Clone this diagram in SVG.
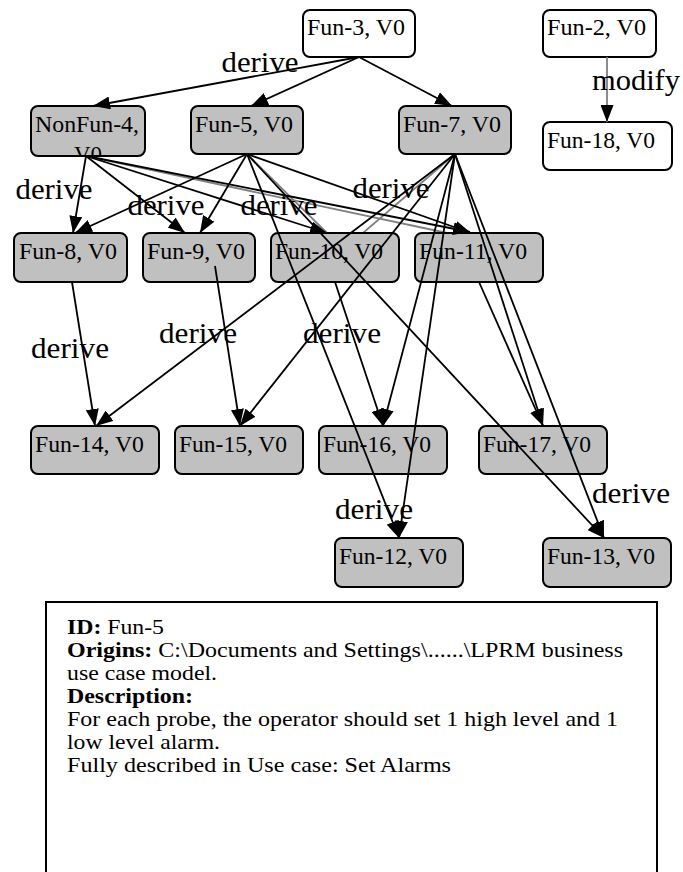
<svg xmlns="http://www.w3.org/2000/svg" width="683" height="872" viewBox="0 0 683 872">
  <defs>
    <marker id="arrow" markerUnits="userSpaceOnUse" markerWidth="17" markerHeight="13" viewBox="0 0 17 13" refX="17" refY="6.5" orient="auto">
      <path d="M0,0 L17,6.5 L0,13 z" fill="#000"/>
    </marker>
    <clipPath id="clip-nonfun4">
      <rect x="31" y="106" width="114" height="49"/>
    </clipPath>
  </defs>
  <style>
    .box { stroke: #000; stroke-width: 2; }
    .pale { fill: #fff; }
    .shaded { fill: #c0c0c0; }
    .name { font-family: "Liberation Serif", "Times New Roman", serif; font-size: 23px; fill: #000; }
    .edge { fill: none; stroke: #000; stroke-width: 1.8; marker-end: url(#arrow); }
    .soft { fill: none; stroke: #808080; stroke-width: 1.8; }
    .rel { font-family: "Liberation Serif", "Times New Roman", serif; font-size: 30px; fill: #000; text-anchor: middle; }
    .info { font-family: "Liberation Serif", "Times New Roman", serif; font-size: 22px; fill: #000; }
    .info .b { font-weight: bold; }
  </style>

  <rect width="683" height="872" fill="#fff"/>

  <!-- secondary relations, drawn beneath the nodes -->
  <g id="connectors-under">
    <line class="soft" x1="247" y1="154" x2="327" y2="233"/>
    <line class="soft" x1="455" y1="154" x2="335" y2="257"/>
    <line class="soft" x1="86" y1="156" x2="466" y2="237"/>
  </g>

  <g id="nodes">
    <g id="fun-3"><rect class="box pale" x="303" y="10" width="112" height="47" rx="7"/><text class="name" x="307" y="35" textLength="98" lengthAdjust="spacingAndGlyphs">Fun-3, V0</text></g>
    <g id="fun-2"><rect class="box pale" x="543" y="10" width="113" height="47" rx="7"/><text class="name" x="547" y="35" textLength="99" lengthAdjust="spacingAndGlyphs">Fun-2, V0</text></g>
    <g id="fun-18"><rect class="box pale" x="543" y="122" width="129" height="48" rx="7"/><text class="name" x="547" y="148" textLength="108" lengthAdjust="spacingAndGlyphs">Fun-18, V0</text></g>
    <g id="nonfun-4"><rect class="box shaded" x="31" y="106" width="114" height="50" rx="7"/>
      <g clip-path="url(#clip-nonfun4)"><text class="name" x="87" y="132" text-anchor="middle" textLength="104" lengthAdjust="spacingAndGlyphs">NonFun-4,</text><text class="name" x="88" y="162" text-anchor="middle">V0</text></g></g>
    <g id="fun-5"><rect class="box shaded" x="191" y="106" width="112" height="48" rx="7"/><text class="name" x="195" y="132" textLength="98" lengthAdjust="spacingAndGlyphs">Fun-5, V0</text></g>
    <g id="fun-7"><rect class="box shaded" x="399" y="106" width="112" height="48" rx="7"/><text class="name" x="403" y="132" textLength="98" lengthAdjust="spacingAndGlyphs">Fun-7, V0</text></g>
    <g id="fun-8"><rect class="box shaded" x="14" y="233" width="113" height="49" rx="7"/><text class="name" x="19" y="259" textLength="98" lengthAdjust="spacingAndGlyphs">Fun-8, V0</text></g>
    <g id="fun-9"><rect class="box shaded" x="143" y="233" width="112" height="49" rx="7"/><text class="name" x="147" y="259" textLength="98" lengthAdjust="spacingAndGlyphs">Fun-9, V0</text></g>
    <g id="fun-10"><rect class="box shaded" x="271" y="233" width="128" height="49" rx="7"/><text class="name" x="275" y="259" textLength="108" lengthAdjust="spacingAndGlyphs">Fun-10, V0</text></g>
    <g id="fun-11"><rect class="box shaded" x="415" y="233" width="128" height="49" rx="7"/><text class="name" x="419" y="259" textLength="108" lengthAdjust="spacingAndGlyphs">Fun-11, V0</text></g>
    <g id="fun-14"><rect class="box shaded" x="31" y="426" width="128" height="48" rx="7"/><text class="name" x="35" y="452" textLength="109" lengthAdjust="spacingAndGlyphs">Fun-14, V0</text></g>
    <g id="fun-15"><rect class="box shaded" x="175" y="426" width="128" height="48" rx="7"/><text class="name" x="179" y="452" textLength="108" lengthAdjust="spacingAndGlyphs">Fun-15, V0</text></g>
    <g id="fun-16"><rect class="box shaded" x="319" y="426" width="128" height="48" rx="7"/><text class="name" x="323" y="452" textLength="108" lengthAdjust="spacingAndGlyphs">Fun-16, V0</text></g>
    <g id="fun-17"><rect class="box shaded" x="479" y="426" width="128" height="48" rx="7"/><text class="name" x="483" y="452" textLength="108" lengthAdjust="spacingAndGlyphs">Fun-17, V0</text></g>
    <g id="fun-12"><rect class="box shaded" x="335" y="538" width="128" height="49" rx="7"/><text class="name" x="339" y="564" textLength="108" lengthAdjust="spacingAndGlyphs">Fun-12, V0</text></g>
    <g id="fun-13"><rect class="box shaded" x="543" y="538" width="128" height="49" rx="7"/><text class="name" x="547" y="564" textLength="108" lengthAdjust="spacingAndGlyphs">Fun-13, V0</text></g>
  </g>

  <g id="connectors">
    <!-- from Fun-3 -->
    <line class="edge" x1="359" y1="57" x2="93" y2="106"/>
    <line class="edge" x1="359" y1="57" x2="251" y2="106"/>
    <line class="edge" x1="359" y1="57" x2="452" y2="106"/>
    <!-- from NonFun-4 -->
    <line class="edge" x1="86" y1="156" x2="73" y2="233"/>
    <line class="edge" x1="86" y1="156" x2="185" y2="233"/>
    <line class="edge" x1="86" y1="156" x2="327" y2="233"/>
    <line class="edge" x1="86" y1="156" x2="470" y2="232"/>
    <!-- from Fun-5 -->
    <line class="edge" x1="247" y1="154" x2="75" y2="233"/>
    <line class="edge" x1="247" y1="154" x2="200" y2="233"/>
    <line class="edge" x1="247" y1="154" x2="471" y2="233"/>
    <line class="edge" x1="247" y1="154" x2="399" y2="538"/>
    <line class="edge" x1="247" y1="154" x2="604" y2="538"/>
    <!-- from Fun-7 -->
    <line class="edge" x1="455" y1="154" x2="96" y2="426"/>
    <line class="edge" x1="455" y1="154" x2="240" y2="426"/>
    <line class="edge" x1="455" y1="154" x2="383" y2="426"/>
    <line class="edge" x1="455" y1="154" x2="399" y2="538"/>
    <line class="edge" x1="455" y1="154" x2="543" y2="426"/>
    <line class="edge" x1="455" y1="154" x2="604" y2="538"/>
    <!-- second row to third row -->
    <line class="edge" x1="72" y1="282" x2="95" y2="426"/>
    <line class="edge" x1="215" y1="266" x2="240" y2="426"/>
    <line class="edge" x1="335" y1="282" x2="383" y2="426"/>
    <line class="edge" x1="479" y1="282" x2="543" y2="426"/>
    <!-- Fun-2 to Fun-18 -->
    <line class="soft" x1="607" y1="57" x2="607" y2="122" marker-end="url(#arrow)"/>

    <text class="rel" x="260" y="72" textLength="77" lengthAdjust="spacingAndGlyphs">derive</text>
    <text class="rel" x="636" y="90" textLength="88" lengthAdjust="spacingAndGlyphs">modify</text>
    <text class="rel" x="54" y="199" textLength="77" lengthAdjust="spacingAndGlyphs">derive</text>
    <text class="rel" x="166" y="215" textLength="77" lengthAdjust="spacingAndGlyphs">derive</text>
    <text class="rel" x="279" y="215" textLength="77" lengthAdjust="spacingAndGlyphs">derive</text>
    <text class="rel" x="391" y="198" textLength="77" lengthAdjust="spacingAndGlyphs">derive</text>
    <text class="rel" x="70" y="358" textLength="78" lengthAdjust="spacingAndGlyphs">derive</text>
    <text class="rel" x="198" y="343" textLength="78" lengthAdjust="spacingAndGlyphs">derive</text>
    <text class="rel" x="342" y="343" textLength="78" lengthAdjust="spacingAndGlyphs">derive</text>
    <text class="rel" x="374" y="519" textLength="78" lengthAdjust="spacingAndGlyphs">derive</text>
    <text class="rel" x="631" y="503" textLength="78" lengthAdjust="spacingAndGlyphs">derive</text>
  </g>

  <!-- details panel for the selected requirement -->
  <g id="details">
    <rect x="46" y="602" width="611" height="290" fill="#fff" stroke="#000" stroke-width="2"/>
    <text class="info" x="67" y="634" textLength="97" lengthAdjust="spacingAndGlyphs"><tspan class="b">ID:</tspan> Fun-5</text>
    <text class="info" x="67" y="657" textLength="556" lengthAdjust="spacingAndGlyphs"><tspan class="b">Origins:</tspan> C:\Documents and Settings\......\LPRM business</text>
    <text class="info" x="67" y="680" textLength="150" lengthAdjust="spacingAndGlyphs">use case model.</text>
    <text class="info" x="67" y="703" textLength="126" lengthAdjust="spacingAndGlyphs"><tspan class="b">Description:</tspan></text>
    <text class="info" x="67" y="726" textLength="551" lengthAdjust="spacingAndGlyphs">For each probe, the operator should set 1 high level and 1</text>
    <text class="info" x="67" y="749" textLength="153" lengthAdjust="spacingAndGlyphs">low level alarm.</text>
    <text class="info" x="67" y="772" textLength="384" lengthAdjust="spacingAndGlyphs">Fully described in Use case: Set Alarms</text>
  </g>
</svg>
